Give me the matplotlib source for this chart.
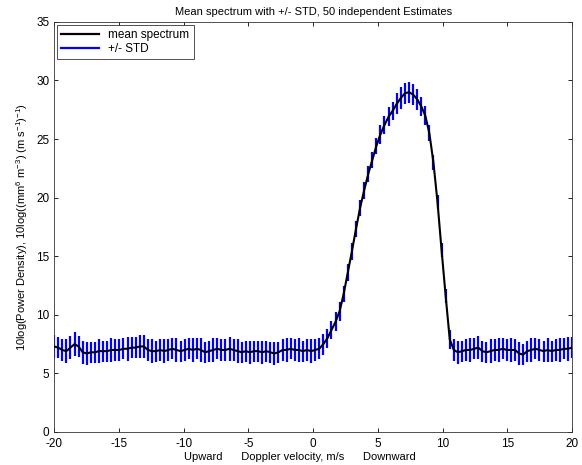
import numpy as np
import matplotlib
matplotlib.use('Agg')
import matplotlib.pyplot as plt
from matplotlib.lines import Line2D

plt.rcParams['font.family'] = ['Liberation Sans', 'DejaVu Sans']
plt.rcParams['mathtext.default'] = 'regular'
plt.rcParams['axes.unicode_minus'] = False

# mean spectrum (dB), 128 Doppler bins from -20 to 20 m/s
mean_left = [7.3, 7.2, 7.0, 6.9, 7.2, 7.5, 7.3, 6.8, 6.7, 6.8, 6.8, 6.9, 6.9, 6.9, 7.0, 7.0,
             7.0, 7.1, 7.1, 7.2, 7.2, 7.3, 7.3, 7.0, 6.9, 6.9, 7.0, 6.9, 7.0, 7.1, 7.0, 6.9,
             7.0, 7.1, 7.0, 7.1, 7.0, 6.8, 6.9, 7.0, 7.1, 7.0, 7.0, 7.1, 7.0, 6.9, 6.8, 6.9,
             6.8, 6.9, 6.9, 6.8, 6.9, 6.8, 6.7, 6.8, 7.0, 7.0, 7.1, 7.0, 7.0, 6.9, 7.0, 6.9]
mean_peak = [7.0, 7.1, 7.5, 8.0, 8.7, 9.4, 10.3, 11.8, 13.6, 15.4, 17.3, 19.1, 20.6, 22.0,
             23.2, 24.4, 25.4, 26.2, 26.9, 27.4, 28.0, 28.5, 28.9, 29.0, 28.8, 28.4, 27.8,
             27.0, 25.5, 23.0, 19.6, 15.5, 11.6, 7.9, 7.0]
mean_right = [6.8, 6.9, 7.0, 7.0, 7.1, 7.2, 6.9, 6.8, 6.9, 7.0, 7.0, 7.1, 7.0, 7.0, 7.0,
              6.7, 6.6, 6.9, 7.0, 7.1, 7.0, 6.9, 7.0, 6.9, 7.0, 7.0, 7.1, 7.1, 7.2]

# standard deviation of the 50 estimates
std_left = [1.0, 0.9, 0.9, 1.0, 1.0, 1.0, 0.9, 1.0, 1.0, 0.9, 0.9, 1.0, 0.9, 0.9, 1.0, 0.9,
            0.9, 0.9, 1.0, 0.9, 0.9, 1.0, 1.0, 0.9, 1.0, 0.9, 0.9, 1.0, 0.9, 0.9, 1.0, 0.9,
            0.9, 0.9, 1.0, 0.9, 1.0, 0.9, 0.9, 1.0, 0.9, 0.9, 0.9, 1.0, 0.9, 1.0, 0.9, 0.9,
            1.0, 0.9, 0.9, 1.0, 0.9, 0.9, 1.0, 0.9, 0.9, 1.0, 0.9, 0.9, 1.0, 0.9, 0.9, 1.0]
std_peak = [0.9, 0.9, 0.9, 0.8, 0.8, 0.8, 0.8, 0.7, 0.7, 0.7, 0.7, 0.7, 0.7, 0.7,
            0.7, 0.7, 0.8, 0.8, 0.8, 0.8, 0.9, 0.9, 0.9, 0.9, 0.9, 0.9, 0.8,
            0.8, 0.7, 0.6, 0.6, 0.6, 0.6, 0.8, 0.9]
std_right = [1.0, 0.9, 0.9, 1.0, 0.9, 1.0, 0.9, 0.9, 1.0, 0.9, 1.0, 0.9, 0.9, 1.0, 0.9,
             1.0, 0.9, 0.9, 1.0, 0.9, 0.9, 0.9, 1.0, 0.9, 0.9, 1.0, 0.9, 1.0, 0.9]

mean_db = np.array(mean_left + mean_peak + mean_right)
std_db = np.array(std_left + std_peak + std_right)
velocity = np.linspace(-20, 20, len(mean_db))

fig = plt.figure(figsize=(5.82, 4.65), dpi=100)
ax = fig.add_axes([0.093, 0.071, 0.890, 0.882])

ax.errorbar(velocity, mean_db, yerr=std_db, fmt='none', ecolor='#0000ff',
            elinewidth=1.6, capsize=0, zorder=2)
ax.plot(velocity, mean_db, color='black', lw=1.5, zorder=3)

ax.set_xlim(-20, 20)
ax.set_ylim(0, 35)
ax.set_xticks(np.arange(-20, 21, 5))
ax.set_yticks(np.arange(0, 36, 5))
ax.tick_params(direction='in', top=True, right=True, labelsize=8.5, length=3, width=0.6)
ax.tick_params(axis='x', pad=4)
for s in ax.spines.values():
    s.set_linewidth(0.6)
    s.set_color('#333333')

ax.set_title('Mean spectrum with +/- STD, 50 independent Estimates', fontsize=8, pad=5)
ax.set_xlabel('Upward      Doppler velocity, m/s      Downward', fontsize=8)
ax.xaxis.set_label_coords(0.475, -0.048)
ax.set_ylabel('10log(Power Density), 10log((mm$^6$ m$^{-3}$) (m s$^{-1}$)$^{-1}$)', fontsize=8)

leg_handles = [Line2D([], [], color='black', lw=1.6), Line2D([], [], color='#0000ff', lw=1.6)]
leg = ax.legend(leg_handles, ['mean spectrum', '+/- STD'], loc='upper left', fontsize=8.5,
                fancybox=False, edgecolor='#333333', framealpha=1,
                borderaxespad=0.25, handlelength=3.2, borderpad=0.35, labelspacing=0.2)
leg.get_frame().set_linewidth(0.6)

fig.savefig('out.png', dpi=100)
